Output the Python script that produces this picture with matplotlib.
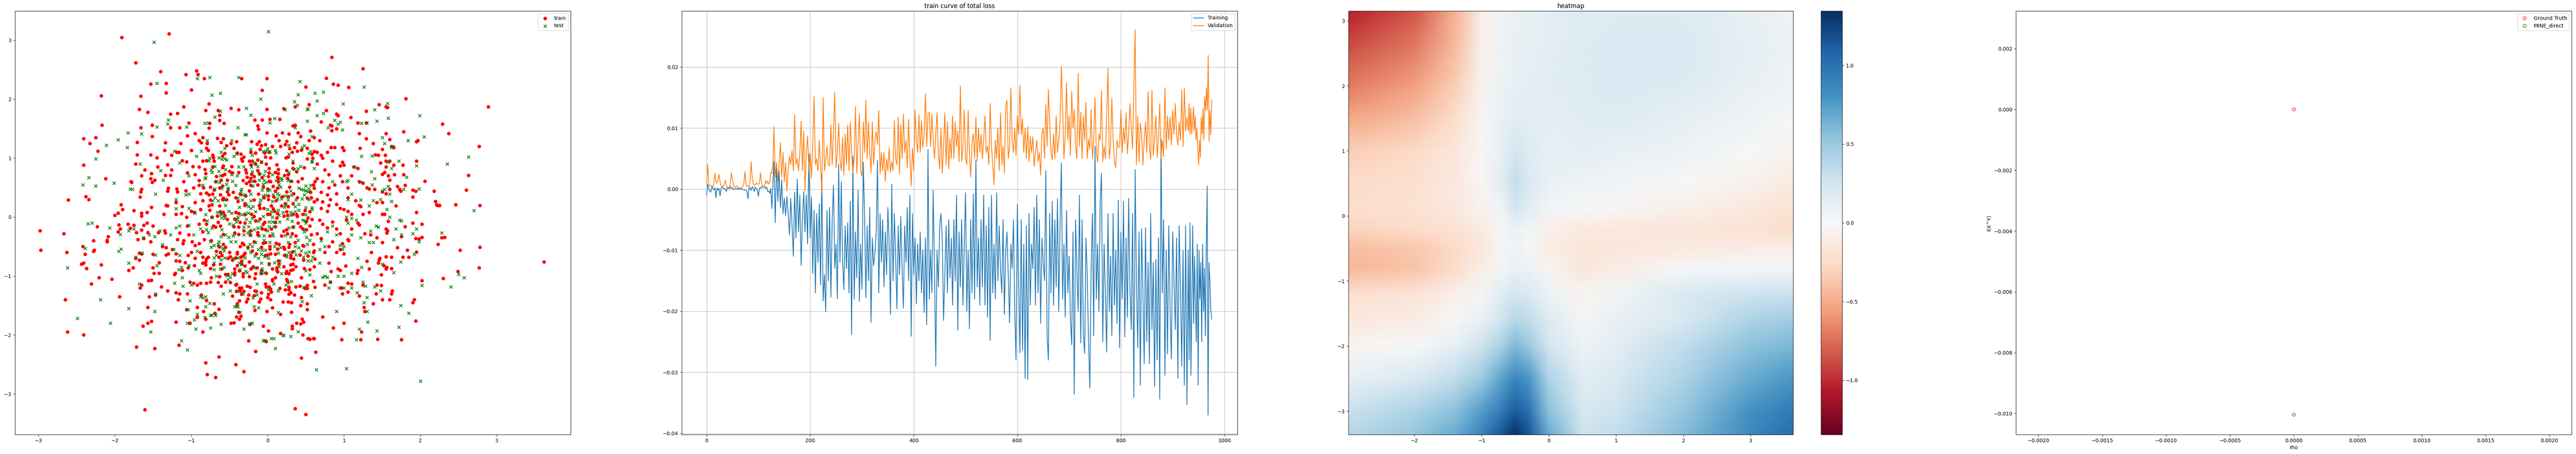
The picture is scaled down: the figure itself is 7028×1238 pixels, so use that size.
import numpy as np
import matplotlib
matplotlib.use('Agg')
import matplotlib.pyplot as plt

# scatter points
train_points = [
    # top
    (-1.91,3.05),(-1.29,3.11),(-1.73,2.62),(-1.40,2.47),(-.93,2.48),(-.91,2.42),(-1.07,2.42),(-.83,2.35),(-.34,2.35),(-.01,2.35),(.84,2.71),(1.25,2.52),(.77,2.36),(.86,2.26),(.92,2.24),(1.06,2.2),(.5,2.21),(-.07,2.15),(-1.53,2.26),(-1.33,2.27),(-1.33,2.11),(-1.0,2.16),(-2.18,2.06),(-1.66,2.05),(1.81,2.01),(2.89,1.87),(-1.10,1.87),(-1.68,1.83),(-1.57,1.78),(-.77,1.92),(-.48,1.85),(-.38,1.82),(-.01,1.83),(-.81,1.81),(-.65,1.81),(-1.27,1.75),(-1.18,1.76),(-.63,1.73),(.21,1.84),(.36,1.87),(.54,1.91),(.77,1.81),(.90,1.75),(.92,1.72),(1.09,1.69),(1.29,1.8),(1.46,1.91),(1.55,1.87),(1.57,1.86),(2.29,1.58),(2.37,1.42),(-.63,1.64),(-.57,1.59),(-1.03,1.60),(-.76,1.59),(-.77,1.51),(-.13,1.55),(-.12,1.49),(-.07,1.65),(.03,1.66),(.16,1.66),(-.17,1.65),(-1.66,1.52),(-1.51,1.56),(-1.15,1.52),(-1.27,1.52),(-2.17,1.56),(.36,1.56),(.33,1.55),(.70,1.62),(.82,1.56),(.84,1.55),(.90,1.5),(.84,1.47),(1.18,1.6),(1.29,1.6),(1.78,1.45),(1.2,1.42),
    # left
    (-1.51,1.37),(-1.05,1.38),(-.95,1.42),(-2.41,1.33),(-2.33,1.25),(-2.25,1.35),(-1.34,1.26),(-1.71,1.27),(-2.22,1.12),(-1.14,1.25),(-1.16,1.1),(-.9,1.3),(-.85,1.35),(-.87,1.26),(-1.0,1.13),(-1.71,1.06),(-1.53,1.06),(-1.45,1.01),(-1.35,1.13),(-1.26,1.05),(-1.19,1.1),(-1.12,.96),(-1.06,.94),(-.98,.86),(-2.41,.88),(-1.44,.85),(-1.31,.89),(-1.26,.8),(-1.34,.71),(-1.27,.71),(-1.48,.63),(-1.52,.74),(-1.53,.65),(-1.51,.59),(-1.61,.8),(-1.73,.9),(-1.79,.6),(-1.78,.59),(-1.65,.7),(-2.12,.65),(-1.65,.47),(-1.66,.43),(-1.67,.34),(-1.3,.49),(-1.31,.44),(-1.19,.48),(-1.18,.43),(-2.61,.29),(-2.38,.35),(-2.34,.3),(-1.92,.21),(-1.9,.13),(-1.2,.25),(-1.07,.45),(-.97,.5),(-.9,.54),(-.88,.4),(-.84,.5),(-1.0,.1),(-1.33,.2),(-1.31,.19),(-1.75,.11),(-1.65,.07),(-1.58,.08),(-1.52,.17),(-1.65,.02),(-1.36,.05),(-1.2,.05),(-1.13,.06),(-1.06,0),(-.96,.08),(-2.0,.03),(-1.96,.07),
    (-1.95,-.13),(-1.93,-.2),(-1.96,-.25),(-1.83,-.12),(-1.8,-.19),(-1.75,-.14),(-1.72,-.26),(-1.65,-.22),(-1.62,-.14),(-1.58,-.1),(-1.57,-.26),(-1.5,-.15),(-1.43,-.26),(-1.35,-.23),(-1.34,-.27),(-2.23,-.16),(-2.09,-.33),(-2.1,-.39),(-2.1,-.42),(-2.28,-.4),(-1.53,-.42),(-1.7,-.38),(-1.62,-.36),(-1.15,-.27),(-1.18,-.38),(-1.11,-.45),(-1.03,-.3),(-.99,-.42),(-.95,-.48),(-.9,-.45),(-2.98,-.23),(-2.67,-.28),(-2.97,-.56),(-2.63,-.6),(-2.42,-.5),(-2.39,-.63),(-2.28,-.58),(-2.27,-.56),(-1.33,-.52),(-1.38,-.5),(-1.3,-.62),(-1.33,-.64),(-1.25,-.55),(-1.2,-.62),(-1.04,-.65),(-1.0,-.6),(-.88,-.6),(-.85,-.68),(-1.65,-.62),(-1.68,-.61),(-1.5,-.63),(-1.73,-.7),(-1.68,-.73),(-1.2,-.74),(-1.15,-.75),(-1.08,-.77),(-.96,-.82),(-1.82,-.9),(-1.76,-.86),(-1.5,-.86),(-1.42,-.77),(-2.44,-.8),(-2.41,-.78),(-2.37,-.87),(-2.18,-.81),(-1.49,-.95),(-1.42,-.95),(-1.22,-.97),(-1.21,-.95),(-1.12,-.9),(-1.04,-.86),(-2.21,-1.03),(-2.04,-1.05),(-1.56,-1.08),(-1.52,-1.07),(-1.02,-1.1),(-.97,-1.12),(-.92,-1.15),(-.88,-1.12),(-2.31,-1.13),(-1.67,-1.2),(-1.65,-1.15),(-1.39,-1.18),(-1.31,-1.25),(-1.2,-1.28),(-1.15,-1.3),(-1.05,-1.3),(-1.17,-1.4),(-1.55,-1.35),(-1.47,-1.32),(-1.94,-1.35),(-2.65,-1.4),(-1.57,-1.53),(-1.06,-1.57),(-.92,-1.53),(-.87,-1.32),(-.84,-1.6),(-.85,-1.95),(-1.52,-1.77),(-1.2,-1.78),(-1.02,-1.8),(-1.57,-1.8),(-1.63,-1.85),(-.92,-1.7),(-2.62,-1.95),(-2.41,-2.0),(-1.72,-2.2),(-1.48,-2.23),(-1.16,-2.17),
    (-.9,.85),(-.95,.72),(-1.05,.75),(-.85,.95),(-.9,.62),(-1.1,.6),(-.85,.28),(-.95,.25),(-.88,.13),(-1.12,.18),(-.83,-.05),(-.9,-.12),(-1.05,-.15),(-.85,-.25),(-1.1,-.4),(-.83,-.38),(-.95,-.7),(-.85,-.78),
    # bottom
    (-.81,-2.47),(-.79,-2.67),(-.68,-2.72),(-.64,-2.37),(-.42,-2.5),(-.31,-2.62),(.63,-2.29),(.44,-2.39),(-.16,-2.28),(-1.61,-3.27),(.36,-3.25),(.5,-3.35),
    # right
    (1.29,1.33),(1.38,1.25),(1.41,1.06),(1.45,1.05),(1.5,1.15),(1.55,1.42),(1.6,1.32),(1.54,1.05),(1.62,1.2),(1.65,1.18),(1.95,1.28),(1.97,1.3),(2.77,1.2),(.7,1.05),(.68,1.3),(.83,1.18),(.88,1.18),(.98,1.18),(1.0,1.13),(1.21,1.17),(.95,.87),(.98,.93),(1.13,.85),(1.18,.83),(1.0,.88),(1.48,.92),(1.55,.95),(1.6,.95),(1.5,.73),(1.53,.76),(1.55,.85),(1.58,.7),(1.65,.88),(1.77,.88),(1.95,.95),(2.63,.71),(2.06,.61),(1.78,.72),(1.66,.72),(1.6,.63),(1.25,.58),(1.3,.5),(1.33,.48),(1.4,.47),(1.5,.43),(1.55,.4),(1.6,.47),(1.7,.52),(1.73,.47),(1.74,.44),(1.8,.54),(1.9,.46),(1.94,.44),(2.18,.44),(2.6,.46),(1.9,.34),(2.2,.27),(2.22,.2),(2.21,.21),(2.25,.2),(2.46,.21),(2.78,.2),(1.68,.19),(1.5,.25),(1.43,.25),(1.22,.18),(1.2,.2),(1.15,.28),(1.05,.33),(.9,.22),(.82,.3),(.72,.26),(.8,.2),(.95,.15),(1.0,.13),(1.05,.1),(1.1,.05),(1.25,.05),(1.33,.08),(1.5,.05),(1.53,.05),(1.95,.08),(1.18,-.1),(1.2,-.13),(1.27,-.28),(1.35,-.3),(1.55,-.2),(1.57,-.23),(1.56,-.27),(1.5,-.43),(1.43,-.35),(1.58,-.07),(1.75,-.33),(1.8,-.16),(1.9,-.1),(2.02,-.12),(1.98,-.37),(2.02,-.34),(2.28,-.35),(2.32,-.34),(2.23,-.46),(2.52,-.56),(2.78,-.51),(1.94,-.36),(1.7,-.52),(1.77,-.68),(1.83,-.56),(1.95,-.59),(1.85,-.68),(1.55,-.67),(1.36,-.6),(1.47,-.7),(1.62,-.68),(1.06,-.4),(1.05,-.38),(.98,-.45),(.95,-.55),(.9,-.6),(.8,-.5),(.75,-.6),(1.0,-.62),(1.3,-.75),(1.46,-.73),(1.45,-.78),(1.52,-.82),(1.56,-.85),(1.62,-.87),(1.55,-.88),(1.33,-.88),(1.18,-.9),(1.17,-.95),(.95,-.9),(.92,-.88),(.83,-.92),(.8,-.78),(1.02,-.83),(3.62,-.76),(2.77,-.86),(2.49,-.92),(1.49,-.98),(2.02,-1.08),(2.3,-1.04),(1.25,-1.15),(1.1,-1.13),(1.05,-1.12),(.97,-1.2),(.95,-1.2),(.82,-1.1),(.75,-1.15),(1.43,-1.15),(1.49,-1.16),(.98,-1.3),(1.05,-1.27),(1.2,-1.34),(1.42,-1.3),(1.63,-1.25),(1.62,-1.3),(1.6,-1.4),(1.5,-1.4),(1.38,-1.47),(1.92,-1.4),(1.9,-1.45),(1.26,-1.53),(1.27,-1.6),(1.94,-1.76),(1.0,-1.8),(.86,-1.88),(.72,-1.69),(1.23,-1.95),(1.44,-2.07),(1.75,-2.08),(.97,-2.08),(1.22,-2.08),(.55,-2.07),(.6,-2.06),
    (.65,1.1),(.72,1.0),(.75,.8),(.8,.72),(.65,.65),(.72,.6),(.8,.5),(.88,.55),(.7,.42),(.78,.38),(.9,.4),(.65,.3),(.7,.15),(.78,.1),(.68,-.05),(.72,-.12),(.78,-.18),(.85,-.08),(.9,-.2),(.95,-.28),(.65,-.28),(.7,-.36),(.85,-.42),(1.03,-.05),(1.1,-.2),(.98,.6),(1.05,.5),(1.1,.7),(1.2,.6),(.95,.7),(.85,.95),(.78,1.1),(.65,.9),
    # centre, upper part
    (-.01,1.43),(.19,1.43),(.28,1.41),(.11,1.38),(.40,1.43),(.43,1.37),(.56,1.46),(-.66,1.34),(-.58,1.33),(-.61,1.27),(-.41,1.28),(-.48,1.25),(-.54,1.21),(-.44,1.17),(-.56,1.08),(-.59,1.04),(-.72,1.05),(-.71,1.01),(-.70,.95),(-.80,.96),(-.8,1.17),(-.78,1.13),(-.79,1.25),(-.21,1.28),(-.11,1.28),(-.14,1.24),(-.08,1.21),(-.03,1.23),(.06,1.2),(-.10,1.15),(-.22,1.10),(-.16,1.09),(-.04,1.09),(.02,1.10),(-.03,1.02),(.04,1.01),(.15,1.30),(.25,1.29),(.23,1.23),(.17,1.20),(.38,1.26),(.35,1.18),(.29,1.16),(.32,1.10),(.39,1.12),(.44,1.14),(.52,1.17),(.61,1.11),(.58,1.07),(.52,.99),(.59,1.0),(.24,1.01),(.27,1.02),(.54,1.30),(.61,1.35),
    (-.35,1.07),(-.40,1.09),(-.31,1.02),(-.34,.99),(-.33,.95),(-.24,.95),(-.20,.95),(-.13,.97),(-.22,.89),(-.16,.90),(-.08,.93),(-.02,.90),(.12,.89),(.14,.81),(.02,.83),(.33,.92),(.48,.84),(.33,.83),(.38,.77),(-.47,.86),(-.58,.87),(-.59,.84),(-.72,.85),(-.82,.81),(-.50,.78),(-.46,.75),(-.38,.76),(-.29,.8),(-.28,.75),(-.21,.73),(-.13,.79),(-.11,.74),(.02,.75),(.10,.76),(.25,.79),(.14,.74),(.01,.69),(.13,.68),(.22,.71),(.27,.72),(-.27,.68),(-.18,.69),(-.07,.67),(.14,.66),(.26,.66),(.45,.65),
    (-.67,.69),(-.59,.71),(-.56,.73),(-.53,.63),(-.61,.63),(-.68,.60),(-.81,.74),(-.32,.62),(-.28,.57),(-.24,.60),(-.22,.66),(-.17,.61),(-.22,.54),(-.13,.55),(.02,.61),(.04,.60),(.14,.60),(.31,.61),(.40,.6),(.62,.6),(.6,.55),(-.75,.51),(-.59,.53),(-.63,.50),(-.70,.46),(-.80,.41),(-.77,.38),(-.72,.39),(-.62,.38),(-.53,.43),(-.51,.38),(-.45,.42),(-.42,.33),(-.36,.39),(-.29,.36),(-.24,.45),(-.12,.39),(-.06,.51),(0,.48),(.07,.52),(.10,.44),(.13,.49),(.29,.51),(.25,.43),(.34,.40),(.56,.42),(.61,.49),
    (-.75,.29),(-.58,.32),(-.59,.30),(-.54,.30),(-.39,.27),(-.18,.29),(-.05,.33),(.01,.36),(.01,.30),(.08,.34),(.11,.28),(.19,.35),(.27,.35),(.39,.33),(.52,.32),(.57,.33),(.61,.26),(-.77,.19),(-.73,.21),(-.63,.19),(-.76,.12),(-.30,.23),(-.30,.20),(-.11,.20),(-.10,.15),(-.05,.15),(.05,.19),(.07,.14),(.18,.19),(.23,.23),(.27,.18),(.33,.23),(.49,.11),(.55,.09),
    (-.62,.09),(-.58,.08),(-.66,.02),(-.56,.03),(-.73,0),(-.42,.08),(-.38,.06),(-.30,.04),(-.21,.05),(-.18,.01),(0,.05),(.03,.05),(.09,.10),(.13,.06),(.21,.02),(.25,.09),(.26,.03),(.33,.05),(.38,.04),(.39,.01),(.46,.05),(-.43,-.03),(-.53,-.04),(-.36,-.09),(-.30,-.10),(-.16,-.06),(-.10,-.03),(-.04,-.09),(-.06,-.12),(.12,-.01),(.40,-.10),(.53,-.01),(.58,-.04),(.51,-.07),(.55,-.15),
    (-.65,-.09),(-.62,-.15),(-.71,-.15),(-.68,-.17),(-.80,-.12),(-.38,-.17),(-.44,-.16),(.10,-.09),(.10,-.16),(.05,-.20),(-.03,-.21),(-.07,-.20),(-.31,-.23),(-.13,-.26),(-.22,-.23),(.21,-.24),(.25,-.21),(.33,-.17),(.43,-.16),(.46,-.20),(.51,-.21),(.57,-.30),(-.58,-.29),(-.38,-.29),(-.43,-.27),(.26,-.28),(.32,-.28),(.37,-.32),(.18,-.32),(.03,-.32),(-.13,-.30),(-.23,-.30),
    # centre, lower part
    (-.74,-.40),(-.58,-.46),(-.55,-.51),(-.64,-.50),(-.67,-.58),(-.62,-.60),(-.50,-.60),(-.40,-.60),(-.40,-.62),(-.36,-.50),(-.33,-.44),(-.31,-.47),(-.26,-.51),(-.18,-.42),(-.20,-.57),(-.15,-.62),(-.08,-.51),(-.06,-.44),(-.03,-.43),(.03,-.50),(.03,-.54),(.13,-.54),(.11,-.44),(.15,-.46),(.21,-.51),(.22,-.54),(.28,-.51),(.29,-.46),(.36,-.43),(.46,-.48),(.47,-.49),(.60,-.46),(.61,-.57),(.60,-.60),
    (-.30,-.61),(-.31,-.64),(-.34,-.67),(-.60,-.65),(-.64,-.68),(-.78,-.68),(-.80,-.71),(-.81,-.76),(-.52,-.70),(-.49,-.67),(-.46,-.73),(-.42,-.69),(-.35,-.68),(-.34,-.75),(-.24,-.76),(-.03,-.65),(0,-.64),(.04,-.62),(.10,-.63),(.22,-.65),(.30,-.65),(.32,-.59),(.42,-.64),(.53,-.66),(.47,-.73),(.34,-.71),(.30,-.69),(.14,-.74),(.15,-.79),(.62,-.71),
    (-.71,-.81),(-.62,-.80),(-.81,-.81),(-.75,-.87),(-.60,-.88),(-.40,-.82),(-.34,-.80),(-.30,-.83),(-.43,-.88),(-.37,-.91),(-.22,-.88),(-.19,-.84),(-.14,-.86),(.02,-.79),(.06,-.88),(.12,-.86),(.12,-.90),(.13,-.93),(.21,-.84),(.30,-.81),(.33,-.80),(.37,-.84),(.33,-.89),(.30,-.90),(.48,-.87),(.55,-.89),(.61,-.84),(.25,-.92),(.24,-.95),(.28,-.96),(-.08,-.90),(-.08,-.95),(-.02,-.95),(-.16,-.96),(-.32,-.96),(-.43,-.94),(-.43,-.98),(-.55,-.97),(-.52,-.97),
    (-.63,-1.01),(-.74,-1.03),(-.32,-1.01),(-.24,-1.01),(-.17,-1.04),(.10,-1.03),(.06,-1.06),(.06,-1.08),(.44,-1.03),(.25,-1.06),(.26,-1.09),(-.75,-1.10),(-.80,-1.12),(-.65,-1.11),(-.55,-1.10),(-.49,-1.11),(-.61,-1.17),(-.42,-1.15),(-.41,-1.14),(-.27,-1.17),(-.23,-1.19),(-.03,-1.13),(-.02,-1.18),(.02,-1.18),(.04,-1.22),(.60,-1.09),(.52,-1.16),(.37,-1.18),(.42,-1.17),(.52,-1.21),(.49,-1.21),(.62,-1.19),(.28,-1.19),(.28,-1.23),
    (.16,-1.21),(.23,-1.23),(-.37,-1.20),(-.34,-1.20),(-.36,-1.25),(-.41,-1.26),(-.31,-1.26),(-.17,-1.25),(-.15,-1.26),(-.08,-1.28),(.05,-1.27),(.30,-1.28),(.28,-1.31),(.35,-1.32),(.01,-1.31),(0,-1.36),(-.25,-1.32),(-.34,-1.31),(-.46,-1.34),(-.18,-1.33),(-.26,-1.39),(-.09,-1.39),(.04,-1.40),(.44,-1.36),(-.37,-1.42),(-.28,-1.44),(-.11,-1.44),(.20,-1.44),(.27,-1.44),(.31,-1.45),(-.80,-1.41),(-.70,-1.47),(-.40,-1.47),(.52,-1.47),(.43,-1.50),
    (-.64,-1.56),(.06,-1.54),(-.17,-1.58),(-.01,-1.60),(.52,-1.57),(.31,-1.61),(-.38,-1.61),(-.69,-1.63),(.17,-1.65),(-.41,-1.69),(-.35,-1.68),(-.37,-1.73),(.45,-1.73),(.47,-1.78),(.43,-1.81),(.38,-1.80),(-.48,-1.80),(-.44,-1.79),(-.23,-1.82),(-.06,-1.85),(.32,-1.85),(.32,-1.89),(.01,-1.93),(.17,-1.97),(.46,-2.0),(.53,-2.06),(.61,-2.06),(-.25,-2.10),(-.02,-2.11),(-.81,-1.73),
]

test_points = [
    # top
    (-1.49,2.97),(.01,3.15),(-.38,2.37),(.42,2.3),(-.92,2.35),(-.76,2.37),(-1.45,2.27),(1.26,2.21),(-.73,2.07),(-.62,2.1),(.4,2.08),(.62,2.1),(.73,2.12),(-.09,2.0),(.65,1.97),(.35,1.96),(.39,1.9),(.99,1.92),(1.57,1.93),(1.4,1.82),(-.28,1.85),(.52,1.82),(.53,1.84),(.23,1.82),(-.62,1.8),(.73,1.76),(.65,1.72),(1.99,1.72),(-.22,1.73),(-.69,1.7),(-1.3,1.65),(-1.31,1.58),(-.82,1.59),(-.78,1.6),(.09,1.67),(.03,1.6),(.52,1.63),(.88,1.64),(.92,1.58),(.95,1.61),(1.58,1.68),(1.43,1.63),(1.3,1.6),(1.23,1.59),(-1.45,1.53),(-1.06,1.53),(.36,1.52),(-.39,1.52),(.79,1.52),(.98,1.48),
    # left
    (-1.83,1.43),(-1.65,1.41),(-.28,1.4),(-1.84,1.18),(-1.96,1.31),(-2.11,1.22),(-2.25,.99),(-.87,1.12),(-.93,1.03),(-1.67,.9),(-1.22,1.12),(-1.15,.92),(-1.4,.79),(-1.37,.63),(-1.03,.7),(-.82,.65),(-2.34,.67),(-2.42,.55),(-2.25,.53),(-2.01,.58),(-1.8,.48),(-1.77,.47),(-1.47,.39),(-1.03,.39),(-1.07,.38),(-.85,.54),(-1.2,.3),(-1.2,.14),(-1.03,.15),(-.95,.07),(-2.35,-.11),(-2.3,-.1),(-2.07,-.18),(-1.82,-.23),(-1.75,-.2),(-1.93,-.29),(-1.55,-.3),(-1.48,-.33),(-1.63,-.35),(-1.41,-.23),(-1.2,-.18),(-1.27,-.3),(-1.15,-.15),(-1.03,-.14),(-.97,-.3),(-.88,-.2),(-1.38,-.47),(-1.47,-.64),(-1.95,-.58),(-1.92,-.54),(-1.64,-.61),(-2.39,-.53),(-2.62,-.86),(-1.82,-.78),(-1.45,-.82),(-1.73,-.68),(-1.15,-.65),(-1.23,-.55),(-.92,-.58),(-1.16,-.89),(-1.13,-.85),(-1.03,-.82),(-1.12,-1.03),(-.9,-.9),(-.88,-.95),(-1.68,-1.13),(-1.22,-1.12),(-1.11,-1.17),(-1.0,-1.15),(-1.47,-1.3),(-2.19,-1.4),(-1.02,-1.42),(-.88,-1.35),(-.85,-1.37),(-1.82,-1.55),(-1.48,-1.6),(-1.04,-1.57),(-2.49,-1.72),(-2.06,-1.8),(-.92,-1.65),(-.96,-1.74),(-.82,-1.7),(-1.05,-1.8),(-.94,-1.9),(-1.53,-1.95),(-1.13,-2.1),(-1.05,-2.25),
    # bottom
    (1.03,-2.57),(.64,-2.59),(2.0,-2.78),(.1,-2.23),(.05,-2.06),(-.04,-2.09),(.2,-2.0),(1.16,-2.08),(1.43,-1.93),(1.2,-1.9),(1.31,-1.78),(.9,-1.6),(1.3,-1.6),(1.26,-1.45),(1.3,-1.36),(1.74,-1.5),(1.85,-1.63),(1.72,-1.87),(2.4,-1.18),(2.02,-1.16),(2.5,-.97),(2.57,-1.03),
    # right
    (2.05,1.36),(1.84,1.3),(1.5,1.35),(1.53,1.25),(1.64,1.2),(1.62,1.18),(1.23,1.03),(1.37,1.04),(2.63,1.02),(2.35,.9),(1.72,.95),(1.95,.87),(1.58,.93),(1.62,.83),(1.82,.68),(1.14,.85),(1.36,.77),(1.4,.65),(1.22,.59),(1.37,.55),(1.5,.45),(1.53,.47),(1.58,.52),(1.98,.48),(1.78,.47),(1.62,.27),(1.1,.39),(1.38,.28),(1.03,.6),(1.05,.62),(2.7,.11),(1.6,.39),(.85,.6),(1.48,.3),(1.05,.3),(1.22,.29),(1.33,.19),(1.56,.13),(1.6,0),(1.73,-.05),(1.75,-.06),(1.68,-.2),(1.95,-.2),(1.9,-.28),(2.28,-.27),(1.98,-.42),(1.35,-.24),(1.42,-.15),(1.45,-.17),(1.16,-.05),(1.1,-.02),(1.03,0),(1.05,-.1),(1.1,-.3),(1.22,-.35),(1.33,-.43),(1.38,-.43),(1.65,-.38),(1.75,-.3),(1.92,-.63),(1.74,-.76),(1.5,-.8),(1.65,-.94),(1.23,-.85),(1.1,-.95),(1.0,-1.0),(.92,-1.0),(.78,-1.02),(.75,-1.0),(.8,-1.2),(.82,-1.1),(1.0,-1.2),(1.1,-1.2),(1.17,-1.28),(1.25,-1.1),(1.28,-1.17),(1.4,-1.18),(1.48,-1.25),(.72,-1.02),(.68,-.78),(.68,-.55),(.78,-.25),(.85,-.15),(.9,-.3),(.7,-.4),(.95,-.48),(.98,-.55),(1.0,-.5),(.75,-.5),(1.18,-.7),
    # centre, upper part
    (-.30,1.40),(-.79,1.30),(-.47,1.30),(-.56,1.17),(-.61,1.10),(-.22,1.15),(-.20,1.05),(-.06,1.11),(-.02,1.12),(0,1.16),(.03,1.11),(.10,1.13),(.11,1.09),(.28,1.22),(.28,1.07),(.45,1.18),(.48,1.21),(.58,1.37),(.56,1.11),(.54,1.08),(-.41,1.07),(-.44,1.03),(-.64,1.01),(-.76,1.0),(-.77,.96),(-.60,.98),(-.56,.99),(-.54,.97),(-.08,.94),(-.18,.92),(.33,.95),(.58,.95),(.58,.93),
    (-.69,.86),(-.74,.80),(-.73,.76),(-.64,.78),(-.55,.81),(-.38,.85),(-.31,.85),(-.21,.85),(-.13,.86),(-.20,.77),(-.03,.78),(.43,.86),(.35,.81),(.40,.82),(.28,.76),(.61,.83),(-.62,.70),(-.47,.72),(-.40,.70),(-.81,.67),(-.10,.72),(-.05,.71),(.06,.72),(-.67,.60),(-.63,.59),(-.46,.61),(-.20,.61),(-.11,.63),(-.05,.62),(-.02,.59),(-.06,.56),(.11,.62),(.18,.66),(.18,.63),(.27,.62),(.30,.61),(-.54,.56),(-.42,.54),(-.19,.53),(.15,.55),(.17,.51),
    (-.60,.49),(-.69,.48),(-.52,.49),(-.52,.47),(-.34,.47),(-.35,.44),(-.07,.46),(0,.45),(.03,.46),(.41,.49),(.44,.47),(.47,.46),(.50,.53),(.56,.54),(.54,.48),(.50,.45),(.53,.43),(.30,.44),(-.33,.38),(-.30,.38),(-.22,.39),(-.06,.36),(-.03,.37),(.07,.38),(.13,.40),(.15,.37),(.23,.36),(.31,.37),(.48,.38),(-.69,.33),(-.72,.28),(-.65,.28),(-.56,.29),(-.39,.32),(-.33,.29),(-.22,.28),(-.09,.29),(-.10,.24),(.06,.27),(.13,.31),(.18,.31),(.27,.29),(.37,.29),(.45,.31),(.54,.30),
    (-.55,.20),(-.28,.21),(-.25,.18),(-.22,.15),(-.19,.18),(-.37,.17),(.24,.21),(.22,.17),(.36,.18),(.41,.22),(.50,.16),(.58,.16),(.58,.13),(0,.13),(.14,.12),(.41,.12),(-.66,.08),(-.51,.10),(-.47,.07),(-.61,.07),(-.61,.04),(-.81,.04),(-.16,.09),(-.25,.07),(-.34,.04),(-.29,.06),(.05,.09),(.20,.08),(.30,.08),(.36,.09),(.15,.03),(.30,.03),(.50,.04),(-.06,.01),
    (-.73,0),(-.60,-.01),(-.56,-.02),(-.39,0),(-.40,-.04),(-.20,-.02),(-.28,-.04),(.06,0),(.26,-.03),(.46,-.05),(.49,-.06),(.50,-.10),(-.79,-.06),(-.41,-.08),(-.50,-.11),(-.45,-.13),(-.23,-.09),(-.12,-.07),(.02,-.08),(.06,-.08),(.10,-.09),(.16,-.08),(.32,-.07),(.34,-.16),(.28,-.18),(-.31,-.17),(-.25,-.16),(-.08,-.17),(-.13,-.19),(.02,-.16),(.08,-.17),(-.60,-.21),(-.73,-.19),(-.80,-.21),(-.78,-.26),(-.18,-.21),(0,-.23),(.48,-.21),(.48,-.25),(-.43,-.28),(-.26,-.27),(-.24,-.25),(.06,-.28),(-.55,-.30),(-.61,-.33),(-.51,-.34),(-.45,-.32),(-.31,-.30),(-.22,-.31),(-.11,-.32),(-.05,-.32),(.07,-.32),(.23,-.31),(.30,-.33),(.51,-.34),
    # centre, lower part
    (-.75,-.42),(-.64,-.42),(-.48,-.42),(-.42,-.42),(-.74,-.51),(-.70,-.48),(-.65,-.46),(-.62,-.51),(-.58,-.53),(-.57,-.57),(-.67,-.65),(-.70,-.69),(-.56,-.69),(-.61,-.72),(-.45,-.70),(-.39,-.69),(-.30,-.69),(-.26,-.53),(-.23,-.46),(-.20,-.50),(-.16,-.43),(-.22,-.60),(-.17,-.66),(-.12,-.55),(-.07,-.56),(-.03,-.56),(-.05,-.39),(.03,-.43),(.09,-.50),(.17,-.52),(.14,-.61),(-.08,-.63),(-.12,-.70),(-.04,-.67),(.01,-.70),(.25,-.64),(.25,-.67),(.28,-.60),(.27,-.43),(.36,-.50),(.35,-.58),(.37,-.64),(.40,-.39),(.41,-.52),(.44,-.57),(.50,-.61),(.54,-.59),(.52,-.46),(.55,-.39),(.47,-.68),(.59,-.68),(.53,-.74),(.57,-.74),
    (-.70,-.78),(-.57,-.85),(-.62,-.88),(-.70,-.89),(-.37,-.78),(-.34,-.80),(-.36,-.89),(-.08,-.78),(.09,-.77),(.16,-.74),(.02,-.81),(.15,-.84),(-.18,-.86),(-.07,-.88),(-.29,-.92),(-.27,-.94),(-.04,-.94),(-.09,-.96),(.18,-.96),(.50,-.91),(.55,-.98),(-.46,-.96),(-.53,-.99),(-.49,-1.02),(-.67,-1.0),(-.52,-1.06),(.08,-1.13),(-.14,-1.13),(.31,-1.09),(.27,-1.12),(.24,-1.15),(.47,-1.19),(.01,-1.23),(.14,-1.25),(-.49,-1.25),(-.58,-1.30),(-.40,-1.26),(-.32,-1.30),(-.14,-1.32),(-.19,-1.37),(.57,-1.33),(-.81,-1.35),(.45,-1.43),(-.76,-1.46),(-.81,-1.52),(-.43,-1.52),(-.41,-1.51),(-.39,-1.52),(-.18,-1.52),(-.12,-1.54),(-.36,-1.62),(.14,-1.62),(-.73,-1.66),(-.75,-1.67),(-.68,-1.67),(-.61,-1.82),(-.24,-1.81),(-.20,-1.80),(-.75,-1.88),(-.31,-1.90),(.40,-1.94),(.21,-2.01),(.30,-2.02),(.08,-2.06),(-.06,-2.10),
]

# loss curves, in units of 1e-3, one list per stretch of epochs
train_early = [-1,.8,.1,-.3,-.5,.4,.1,-.1,.2,-1.4,.2,-.2,.1,-1.1,.1,.4,.1,.1,.1,-.4,.2,.1,.1,.4,.1,.2,-.1,0,.1,0,.1,0,.1,0,0,-.1,-.1,-.1,-.2,-.4,-1.6,.3,.2,-.2,.4,.2,-.4,.3,.1,-.2,-1.2,.2,.1,.4,.3,.3,.5,.1,.3,-.4,-.3,-.7,.1,-3.2,1]
train_130 = [4.5,-5.5,4.3,-2,3,-3,1.5,-4,-1.5,-4.3,-1.2,-4,-7.5,-1.5,-6,-11,-.5,-8,1.6,-7,-1,-12.5,-5,-.4,-7,-1,-9,5.7,-8,-1.3,-13.8,-3.5,-17,-4,-12,-2.4,-15.7,2.3,-18.3,-14]
train_230 = [-20.1,-3.5,-15,-3,-17.7,-5,.6,-13,-9,-18,4.1,-12,1.2,-11.5,-16.5,-6,-13,-5.5,-17,-2,-23.8,5.4,-18,-7,-14.5,-.2,-18.4,-9,-16.4,4.4,-4,-17.8,-6,-15,-3,-21.8,-8,-12.5,-10.5,-7]
train_330 = [4.7,-17,-4,-12,-5,-16,-7,-14,-3,-9,-20.5,.8,-15,-4,-11,-19.6,-6,-14,-4.5,-13,-19.5,-6,-12,-3,-15,-1,-24.1,-4,-14,-8,-18.8,-9,-15,-7,-17,-10,-20.2,-8,-22.2,6.5]
train_430 = [-18,-10,-17,-.2,-13,-29,-10,-16,-6,-4,-8,-21.5,-14,-6,-17,-5,-14.5,-8,-19,-5,-15,-1,-23.1,-7,-16,-5,-19,-9,-.6,-20,-10,-22.9,-5,-17,-.8,-18,4.8,-16,-8,-19]
train_530 = [-5,-16,-1,-19,-6,-21,-3,-24.8,-1,-17,-9,-18,-.6,-15,-6,-13,-17,-5,-20.5,-10,-7,-14,-21.9,-9,-13,-5,-20,-28,-2.5,-15,-26.8,-5,-26.4,-9,-31,-6,-31.2,-4,-19,-9]
train_630 = [-13,-3,-19,-1,-17,-5,-22,-8,-12,-15,3,-24,-28,-4,-17,-2,-19,-5,-16,-1.6,-20,-6,4.3,-18,-9,-21,-3.5,-17,-11,-21,-25.5,-7,-33.6,-5,-13,-20,-1,-25.2,-5,-24]
train_730 = [-26.9,-8,-14,-25,-32.6,-13,-4,-24,7,-18,-9,-20,-2,2.6,-25,-9,-17,-26.7,-4,-20,-11,-24,-4,-19,-10,-22,-1.8,-26,-7,-18,-2,-24.2,-8,-21,-1.5,-16,-23,-4,-34.1,3.2]
train_830 = [-15,-26,-7,-32.1,-6.5,-17,-28.6,-6.3,-25,-12,-28.6,-4,-23,-12,-32.3,-11.5,-28,-8,-34.4,8.2,-17,-5,-30.5,-10,-27,-6,-20,-27.8,-7,-15,-23,-8,-31,-6,-16,-29,-10,-32.1,-6,-35.3]
train_930 = [-10,-28,-5.5,-30.5,-18,-6,-22,-11,-19,-25,-9,-32.1,-10,-18,-12,-25,-9,-20,-13,-24,-10,.5,-37,-12,-15,-19.6,-21.3]

val_early = [.7,4.1,.9,.5,.6,.5,.3,.9,2.6,1.2,1,1.6,2.4,1.2,.5,.4,.5,.7,1.4,.7,.3,.3,.2,1,2.7,1.5,.5,.3,.4,.5,.3,.2,.2,.1,.2,.5,1,2.9,.9,.4,.6,.5,1.2,4.5,2,.9,.6,.7,1,.8,.8,1,2.7,1,.6,.3,.5,1.4,.9,1.3,.8,1.1,2.8,2.6,4.2]
val_130 = [10.2,2,4.3,1.3,4,7.6,2,6,1.2,4.3,-.3,3,5.4,4,6.3,3,12.2,4,5,3,5.9,11.1,3,9.5,-.3,6,8.7,3,6,1.8,7.7,15.2,4,5,3,8,4,-.7,15,3]
val_230 = [5,7,4,3.8,10.5,4,9.5,15.8,3.5,6,10.8,5,3,8.5,2.3,9,4,10.5,3,11,6,2.7,5,13.5,2.6,8,12.3,3,2.1,11,6,14.5,5,11,6,2.7,11,4,8,9.4]
val_330 = [7.3,12.9,2.5,6,3,6,1.3,5,3,6.8,2.7,4.5,3,11.2,5,4,11.8,2.5,10.6,5,12.3,6,8,3.5,11.4,5,.5,6.7,3,13,8,6,12.2,6,11.2,6.8,9,15.6,7,12.5]
val_430 = [12.5,7,12.3,8,5,9,12.5,6,3.3,10,2.6,7,12.5,4,11,3.3,8.3,5,12,5,11,7,9.5,4.5,16.9,4.5,7,13,5,4,12.9,6,2,7.6,9,5,11.8,4.6,10,6]
val_530 = [9,5,8,12,6,7,4,14,7,4,.7,8,5,10,3,12.5,4,7,2.7,13.5,14.5,5,7,16.6,8,6,10,5.5,12,9,17,9,11.5,6,10,5,10.2,4.5,8.6,6]
val_630 = [8.6,3.7,6,8,4.5,6,2.3,9,10,5,13.8,7,16.3,11,6,4.8,9,5,12,6,8,11,20.1,13,5,9,17.4,8,12,5.5,16,10,13,7,5,19,7,12.6,5,12]
val_730 = [8,14.2,5,8.2,6.5,13,5,8,15,6,4.4,9,8,16.1,4.5,7,5,12,19.8,5,7,14.9,8,4.5,3.5,8,6.8,7,13,6,10,7.5,12.5,5.8,9,14,10,6.6,16.6,26.1]
val_830 = [4,12,4.5,10.8,9,3.9,8,11,6,16,7,4.8,16.2,5.5,8,12,5.2,8.5,14,5,8,5.3,16.6,6.5,12,8,11.8,7.2,13,9,14,9,7.2,11,8,16.2,7,16.5,9.5,11.8]
val_930 = [9.5,14,9,13.3,9,11,13.5,9.5,12,8,10,6.5,4,8,5.2,11.8,9,13.2,8,15.1,12.9,16.6,13,21.9,7.8,12.9,8.9,14.6]

# epoch where each stretch starts, last one is the end of the run
stretch_edges = [0, 130, 230, 330, 430, 530, 630, 730, 830, 930, 977]

# heatmap values on an uneven grid, rows run from top to bottom
heat_x = [-2.98, -2, -1.4, -1, -.7, -.5, -.3, 0, .5, 1, 2, 3, 3.63]
heat_y = [3.15, 2.5, 2, 1.5, 1, .5, .1, -.2, -.5, -.8, -1.2, -1.6, -2, -2.5, -3, -3.36]
heat_values = [
    [-1.05,-.85,-.48,-.08,.07,.09,.11,.13,.16,.18,.18,.1,.07],
    [-.85,-.68,-.42,-.06,.07,.1,.11,.14,.17,.2,.2,.12,.08],
    [-.7,-.55,-.33,-.05,.08,.12,.13,.15,.18,.2,.18,.1,.06],
    [-.52,-.4,-.24,-.03,.1,.16,.14,.13,.16,.17,.12,.06,.02],
    [-.33,-.27,-.15,-.02,.12,.25,.17,.12,.13,.11,.07,.01,-.04],
    [-.25,-.22,-.13,-.02,.15,.32,.2,.09,.07,.05,-.01,-.06,-.12],
    [-.24,-.2,-.14,-.05,.05,.25,.15,.04,-.01,-.03,-.08,-.14,-.2],
    [-.3,-.25,-.2,-.12,-.02,.09,.04,-.08,-.12,-.14,-.16,-.2,-.24],
    [-.42,-.36,-.27,-.15,-.02,.07,.02,-.1,-.17,-.15,-.12,-.1,-.1],
    [-.45,-.38,-.25,-.1,.04,.1,.07,-.03,-.15,-.1,0,.02,.02],
    [-.22,-.18,-.08,.03,.16,.25,.2,.08,-.04,.05,.2,.28,.3],
    [-.14,-.1,0,.1,.28,.38,.33,.18,.03,.1,.22,.42,.48],
    [-.03,0,.12,.28,.45,.6,.5,.25,.08,.14,.33,.55,.62],
    [.1,.2,.33,.5,.72,.88,.78,.42,.15,.2,.42,.68,.78],
    [.3,.42,.55,.75,.95,1.12,1,.55,.22,.28,.52,.82,.95],
    [.38,.52,.68,.9,1.15,1.35,1.15,.68,.28,.33,.58,.88,1.03],
]

rho_values = [0.0]
truth_values = [0.0]
mine_values = [-0.01004]


def pixel_axes(fig, left, right, top=30, bottom=1185):
    # axes box given in pixels of the 7028x1238 picture
    return fig.add_axes([left / 7028, 1 - bottom / 1238, (right - left) / 7028, (bottom - top) / 1238])


def stitch(stretches):
    xs, ys = [], []
    for i, part in enumerate(stretches):
        if i == 0:
            xs.extend(np.arange(len(part)) * 2)
        else:
            xs.extend(np.linspace(stretch_edges[i], stretch_edges[i + 1], len(part), endpoint=False))
        ys.extend(part)
    return np.array(xs), np.array(ys) * 1e-3


fig = plt.figure(figsize=(70.28, 12.38), dpi=100)

# scatter of the samples
ax1 = pixel_axes(fig, 41, 1557)
train_x, train_y = zip(*train_points)
test_x, test_y = zip(*test_points)
ax1.scatter(train_x, train_y, color='r', marker='o', label='train')
ax1.scatter(test_x, test_y, color='g', marker='x', label='test')
ax1.set_xlim(-3.307, 3.969)
ax1.set_ylim(-3.69, 3.496)
ax1.legend(loc='upper right')

# training curves
ax2 = pixel_axes(fig, 1860, 3376)
epochs_t, loss_t = stitch([train_early, train_130, train_230, train_330, train_430, train_530, train_630, train_730, train_830, train_930])
epochs_v, loss_v = stitch([val_early, val_130, val_230, val_330, val_430, val_530, val_630, val_730, val_830, val_930])
ax2.plot(epochs_t, loss_t, label='Training')
ax2.plot(epochs_v, loss_v, label='Validation')
ax2.set_xlim(-48, 1025)
ax2.set_ylim(-0.0402, 0.02917)
ax2.set_title('train curve of total loss')
ax2.grid(True)
ax2.legend(loc='upper right')

# heatmap with its colorbar
ax3 = pixel_axes(fig, 3679, 4892)
mesh = ax3.pcolormesh(heat_x, heat_y, np.array(heat_values), cmap='RdBu', vmin=-1.346, vmax=1.346, shading='gouraud')
ax3.set_xlim(-2.98, 3.63)
ax3.set_ylim(-3.36, 3.15)
ax3.set_title('heatmap')
cax = pixel_axes(fig, 4968, 5026)
cbar = fig.colorbar(mesh, cax=cax)
cbar.set_ticks([-1.0, -0.5, 0.0, 0.5, 1.0])

# estimate against ground truth
ax4 = pixel_axes(fig, 5500, 7016)
ax4.scatter(rho_values, truth_values, facecolors='none', edgecolors='r', label='Ground Truth')
ax4.scatter(rho_values, mine_values, facecolors='none', edgecolors='g', label='MINE_direct')
ax4.set_xlim(-0.002176, 0.002174)
ax4.set_ylim(-0.010695, 0.003238)
ax4.set_xticks([-0.002, -0.0015, -0.001, -0.0005, 0, 0.0005, 0.001, 0.0015, 0.002])
ax4.set_xlabel('rho')
ax4.set_ylabel('I(X^Y)')
ax4.legend(loc='upper right')

fig.savefig('out.png', dpi=100)
